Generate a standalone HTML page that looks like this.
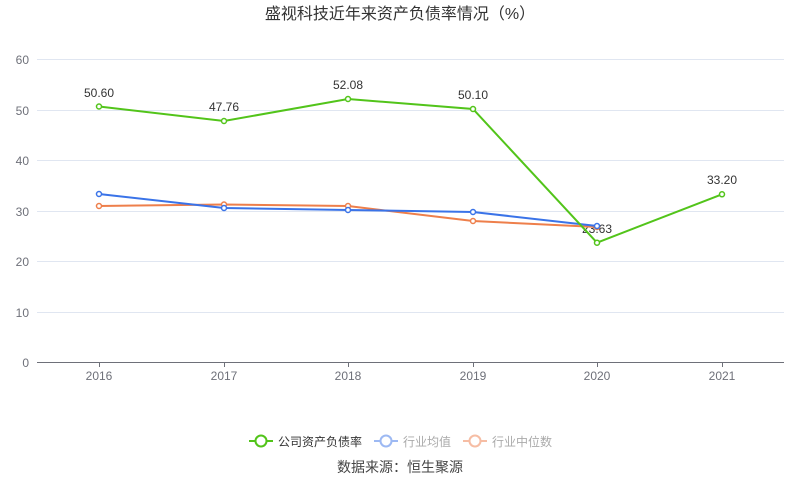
<!DOCTYPE html>
<html><head><meta charset="utf-8"><style>
html,body{margin:0;padding:0;background:#fff;}
svg{display:block;font-family:"Liberation Sans","Noto Sans CJK SC",sans-serif;}
</style></head><body>
<svg width="800" height="501" viewBox="0 0 800 501">
<text x="400" y="19" text-anchor="middle" font-size="16" fill="#333">盛视科技近年来资产负债率情况（%）</text>
<g stroke="#e0e6f1" stroke-width="1">
<line x1="37" y1="59.5" x2="784" y2="59.5"/>
<line x1="37" y1="110.5" x2="784" y2="110.5"/>
<line x1="37" y1="160.5" x2="784" y2="160.5"/>
<line x1="37" y1="211.5" x2="784" y2="211.5"/>
<line x1="37" y1="261.5" x2="784" y2="261.5"/>
<line x1="37" y1="312.5" x2="784" y2="312.5"/>
</g>
<line x1="37" y1="362.5" x2="784" y2="362.5" stroke="#6e7079"/>
<g stroke="#6e7079"><line x1="99.5" y1="362" x2="99.5" y2="367"/><line x1="224.5" y1="362" x2="224.5" y2="367"/><line x1="348.5" y1="362" x2="348.5" y2="367"/><line x1="473.5" y1="362" x2="473.5" y2="367"/><line x1="597.5" y1="362" x2="597.5" y2="367"/><line x1="722.5" y1="362" x2="722.5" y2="367"/></g>
<g font-size="12" fill="#6e7079" text-anchor="end">
<text x="29" y="64">60</text><text x="29" y="115">50</text><text x="29" y="165">40</text><text x="29" y="216">30</text><text x="29" y="266">20</text><text x="29" y="317">10</text><text x="29" y="367">0</text>
</g>
<g font-size="12" fill="#6e7079" text-anchor="middle">
<text x="99" y="380">2016</text><text x="224" y="380">2017</text><text x="348" y="380">2018</text><text x="473" y="380">2019</text><text x="597" y="380">2020</text><text x="722" y="380">2021</text>
</g>
<g font-size="12" fill="#333" text-anchor="middle">
<text x="99" y="97">50.60</text><text x="224" y="111">47.76</text><text x="348" y="89">52.08</text><text x="473" y="99">50.10</text><text x="597" y="233">23.63</text><text x="722" y="184">33.20</text>
</g>
<polyline fill="none" stroke="#ee7f4b" stroke-width="2" points="99,206 224,204.5 348,206 473,221 597,227"/>
<polyline fill="none" stroke="#3a73e8" stroke-width="2" points="99,194 224,208 348,210 473,212 597,226"/>
<polyline fill="none" stroke="#52c41a" stroke-width="2" points="99,106.5 224,121 348,99 473,109 597,242.7 722,194.3"/>
<g fill="#fff" stroke="#ee7f4b" stroke-width="1.5"><circle cx="99" cy="206" r="2.5"/><circle cx="224" cy="204.5" r="2.5"/><circle cx="348" cy="206" r="2.5"/><circle cx="473" cy="221" r="2.5"/><circle cx="597" cy="227" r="2.5"/></g>
<g fill="#fff" stroke="#3a73e8" stroke-width="1.5"><circle cx="99" cy="194" r="2.5"/><circle cx="224" cy="208" r="2.5"/><circle cx="348" cy="210" r="2.5"/><circle cx="473" cy="212" r="2.5"/><circle cx="597" cy="226" r="2.5"/></g>
<g fill="#fff" stroke="#52c41a" stroke-width="1.5"><circle cx="99" cy="106.5" r="2.5"/><circle cx="224" cy="121" r="2.5"/><circle cx="348" cy="99" r="2.5"/><circle cx="473" cy="109" r="2.5"/><circle cx="597" cy="242.7" r="2.5"/><circle cx="722" cy="194.3" r="2.5"/></g>
<g stroke-width="2">
<line x1="249" y1="441" x2="273" y2="441" stroke="#52c41a"/><circle cx="261" cy="441" r="5.5" fill="#fff" stroke="#52c41a"/>
<line x1="374" y1="441" x2="398" y2="441" stroke="#9db9f3"/><circle cx="386" cy="441" r="5.5" fill="#fff" stroke="#9db9f3"/>
<line x1="463" y1="441" x2="487" y2="441" stroke="#f6bda4"/><circle cx="475" cy="441" r="5.5" fill="#fff" stroke="#f6bda4"/>
</g>
<g font-size="12">
<text x="278" y="446" fill="#333">公司资产负债率</text>
<text x="403" y="446" fill="#aaa">行业均值</text>
<text x="492" y="446" fill="#aaa">行业中位数</text>
</g>
<text x="400" y="472" text-anchor="middle" font-size="14" fill="#444">数据来源：恒生聚源</text>
</svg>
</body></html>
